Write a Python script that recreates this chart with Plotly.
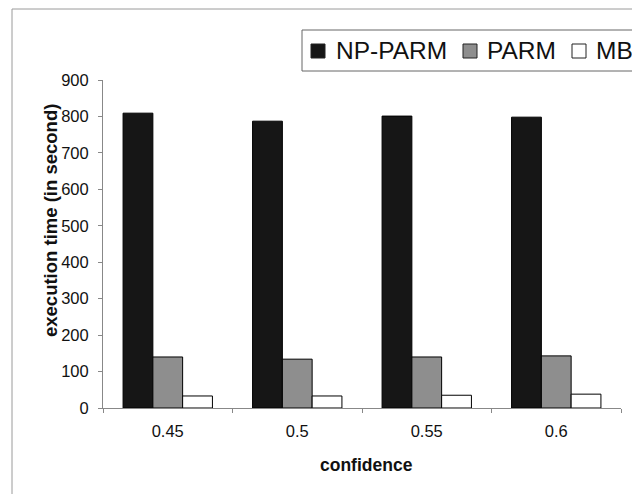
import plotly.graph_objects as go

categories = ["0.45", "0.5", "0.55", "0.6"]
np_parm = [809, 787, 801, 798]
parm = [140, 134, 140, 143]
mb = [33, 33, 35, 38]
series_names = ["NP-PARM", "PARM", "MB"]
y_ticks = [0, 100, 200, 300, 400, 500, 600, 700, 800, 900]

colors = ["#161616", "#8e8e8e", "#ffffff"]
FONT = "Liberation Sans, Arial, sans-serif"
TXT = "#111111"

# plot area in pixels
L, R, T, B = 103, 11, 80, 86
W, H = 632, 494
PW, PH = W - L - R, H - T - B


def px(x):
    return (x - L) / PW


def py(y):
    return (H - B - y) / PH


fig = go.Figure()
for name, vals, col in zip(series_names, [np_parm, parm, mb], colors):
    fig.add_trace(go.Bar(
        x=categories, y=vals, name=name, showlegend=False,
        marker=dict(color=col, line=dict(color="#000000", width=1)),
    ))

shapes = [
    # outer chart frame (left and top edges visible)
    dict(type="line", xref="paper", yref="paper", x0=px(12), x1=px(12),
         y0=py(494), y1=py(9), line=dict(color="#9a9a9a", width=1)),
    dict(type="line", xref="paper", yref="paper", x0=px(12), x1=px(632),
         y0=py(9), y1=py(9), line=dict(color="#9a9a9a", width=1)),
    # legend box
    dict(type="line", xref="paper", yref="paper", x0=px(302), x1=px(632),
         y0=py(30), y1=py(30), line=dict(color="#666666", width=1)),
    dict(type="line", xref="paper", yref="paper", x0=px(302), x1=px(632),
         y0=py(71), y1=py(71), line=dict(color="#666666", width=1)),
    dict(type="line", xref="paper", yref="paper", x0=px(302), x1=px(302),
         y0=py(71), y1=py(30), line=dict(color="#666666", width=1)),
]

annotations = [
    dict(text="<b>execution time (in second)</b>", xref="paper", yref="paper",
         x=px(50), y=py(221), showarrow=False, textangle=-90,
         font=dict(size=18.5, family=FONT, color=TXT),
         xanchor="center", yanchor="middle"),
    dict(text="<b>confidence</b>", xref="paper", yref="paper",
         x=px(366), y=py(465), showarrow=False,
         font=dict(size=17.5, family=FONT, color=TXT),
         xanchor="center", yanchor="middle"),
]

# manual legend entries
legend_marker_x = [311, 463, 572]
legend_text_x = [334, 485, 594]
for name, col, mx, tx in zip(series_names, colors, legend_marker_x, legend_text_x):
    shapes.append(dict(type="rect", xref="paper", yref="paper",
                       x0=px(mx), x1=px(mx + 14), y0=py(58), y1=py(44),
                       fillcolor=col, line=dict(color="#222222", width=1)))
    annotations.append(dict(text=name, xref="paper", yref="paper",
                            x=px(tx), y=py(50.5), showarrow=False,
                            xanchor="left", yanchor="middle",
                            font=dict(size=24.5, family=FONT, color=TXT)))

fig.update_layout(
    width=W, height=H,
    margin=dict(l=L, r=R, t=T, b=B),
    paper_bgcolor="white", plot_bgcolor="white",
    barmode="group", bargap=0.31, bargroupgap=0,
    font=dict(family=FONT, color=TXT, size=16.5),
    showlegend=False,
    xaxis=dict(
        type="category", showline=True, linecolor="#888888", linewidth=1,
        ticks="outside", ticklen=4, tickcolor="#888888", tickson="boundaries",
        tickfont=dict(size=16.5, family=FONT, color=TXT),
        ticklabelstandoff=8, range=[-0.5, 3.5], fixedrange=True,
    ),
    yaxis=dict(
        range=[0, 900], tickvals=y_ticks, showline=True, linecolor="#888888",
        linewidth=1, ticks="outside", ticklen=4, tickcolor="#888888",
        showgrid=False, zeroline=False,
        tickfont=dict(size=16.5, family=FONT, color=TXT),
        ticklabelstandoff=6,
    ),
    annotations=annotations,
    shapes=shapes,
)

fig.write_html("out.html")
